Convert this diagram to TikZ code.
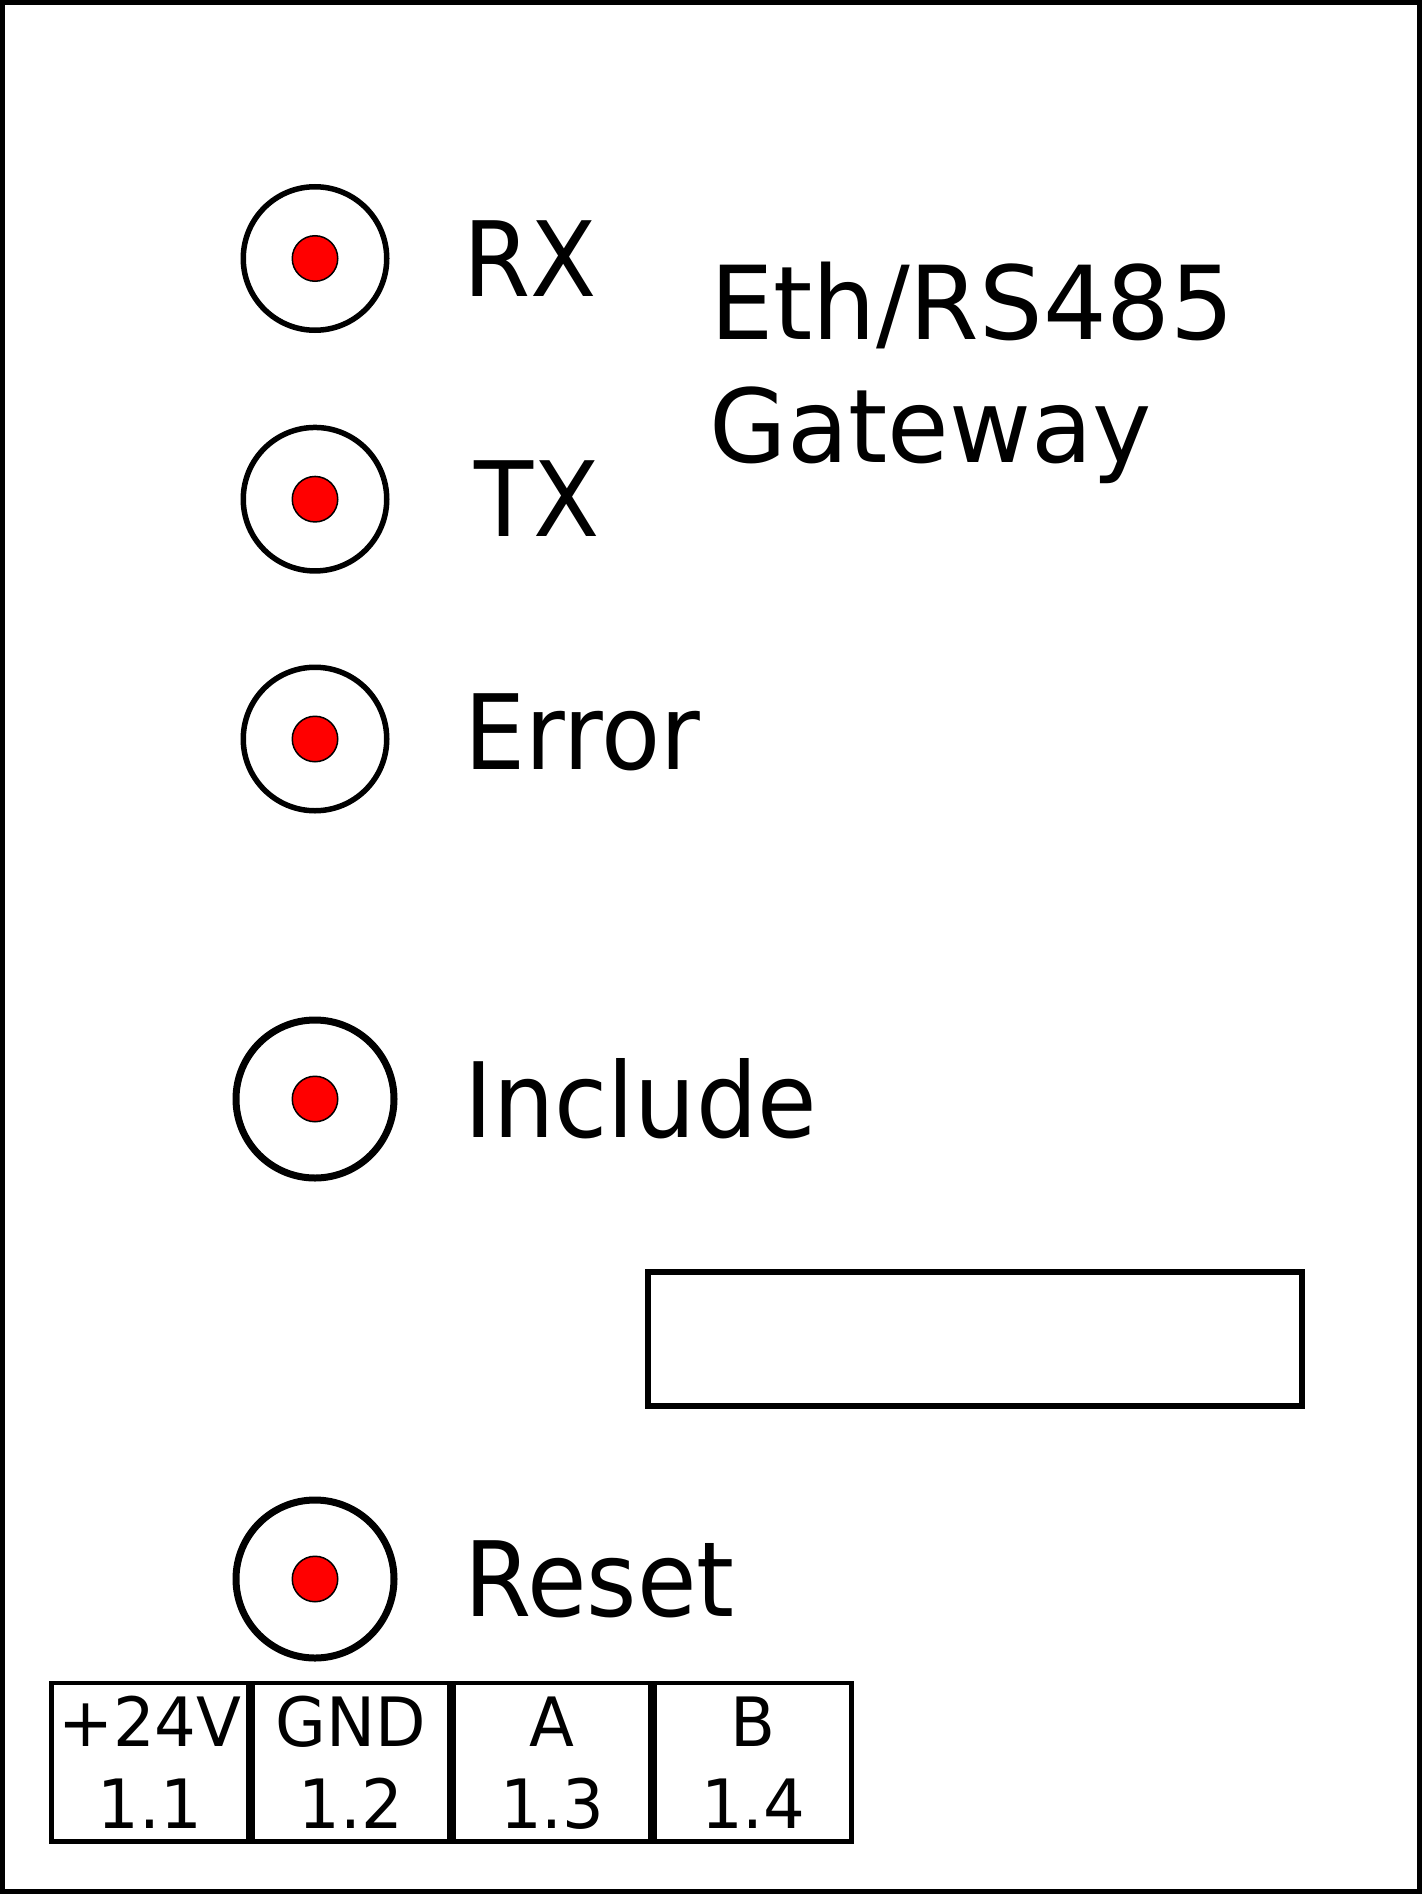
\documentclass[tikz,border=0pt]{standalone}
\usepackage{fontspec}
\setmainfont{DejaVu Sans}
\usepackage{graphicx}
\newcommand{\tnarrow}[1]{\scalebox{0.965}[1]{#1}}
\begin{document}
\begin{tikzpicture}[x=1pt,y=-1pt,
  ledring/.style={circle,draw=black,fill=white,inner sep=0pt,outer sep=0pt,line width=5.5pt,minimum size=143.5pt},
  bigring/.style={circle,draw=black,fill=white,inner sep=0pt,outer sep=0pt,line width=7pt,minimum size=158pt},
  reddot/.style={circle,draw=black,fill=red,inner sep=0pt,outer sep=0pt,line width=1.5pt,minimum size=45.5pt},
  ledlabel/.style={anchor=base west,inner sep=0pt,outer sep=0pt,font=\fontsize{104}{104}\selectfont},
  titletext/.style={anchor=base west,inner sep=0pt,outer sep=0pt,font=\fontsize{102}{102}\selectfont},
  termbox/.style={rectangle,draw=black,inner sep=0pt,outer sep=0pt,line width=4.5pt,minimum width=196.3pt,minimum height=158.5pt},
  termtext/.style={anchor=base,inner sep=0pt,outer sep=0pt,font=\fontsize{68}{68}\selectfont},
  slot/.style={rectangle,draw=black,inner sep=0pt,outer sep=0pt,line width=6.5pt,minimum width=654pt,minimum height=134pt}]
\useasboundingbox (0,0) rectangle (1422,1894);
\fill[white] (0,0) rectangle (1422,1894);
\draw[line width=4.6pt] (2.3,2.3) rectangle (1419.5,1891.5);

% LEDs
\node[ledring] (rxring) at (315,258.5) {};
\node[reddot] (rxdot) at (rxring.center) {};
\node[ledring] (txring) at (315,499.2) {};
\node[reddot] (txdot) at (txring.center) {};
\node[ledring] (errring) at (315,739) {};
\node[reddot] (errdot) at (errring.center) {};
\node[bigring] (incring) at (315,1099) {};
\node[reddot] (incdot) at (incring.center) {};
\node[bigring] (resring) at (315,1579) {};
\node[reddot] (resdot) at (resring.center) {};

% labels
\node[ledlabel] (rxlab) at (463.2,296.7) {\scalebox{0.93}[1]{RX}};
\node[ledlabel] (txlab) at (474,536.7) {\scalebox{0.93}[1]{TX}};
\node[ledlabel] (errlab) at (464.5,769) {\scalebox{0.93}[1]{Error}};
\node[ledlabel] (inclab) at (464.8,1137.7) {\scalebox{0.93}[1]{Include}};
\node[ledlabel] (reslab) at (464.5,1616.7) {\scalebox{0.93}[1]{Reset}};

% title
\node[titletext] (title1) at (710,339) {\scalebox{0.982}[1]{Eth/RS485}};
\node[titletext] (title2) at (709.4,462.7) {\scalebox{0.982}[1]{Gateway}};

% slot
\node[slot] (slotbox) at (975,1339) {};

% terminals
\node[termbox] (t1) at (149.85,1762.2) {};
\node[termbox,line width=4.8pt] (t2) at (350.95,1762.2) {};
\node[termbox] (t3) at (552.35,1762.2) {};
\node[termbox] (t4) at (753.35,1762.2) {};
\node[termtext] (t1a) at (149.85,1746) {\tnarrow{+24V}};
\node[termtext] (t1b) at (149.85,1828.3) {\tnarrow{1.1}};
\node[termtext] (t2a) at (350.95,1746) {\tnarrow{GND}};
\node[termtext] (t2b) at (350.95,1828.3) {\tnarrow{1.2}};
\node[termtext] (t3a) at (552.35,1746) {\tnarrow{A}};
\node[termtext] (t3b) at (552.35,1828.3) {\tnarrow{1.3}};
\node[termtext] (t4a) at (753.35,1746) {\tnarrow{B}};
\node[termtext] (t4b) at (753.35,1828.3) {\tnarrow{1.4}};
\end{tikzpicture}
\end{document}
